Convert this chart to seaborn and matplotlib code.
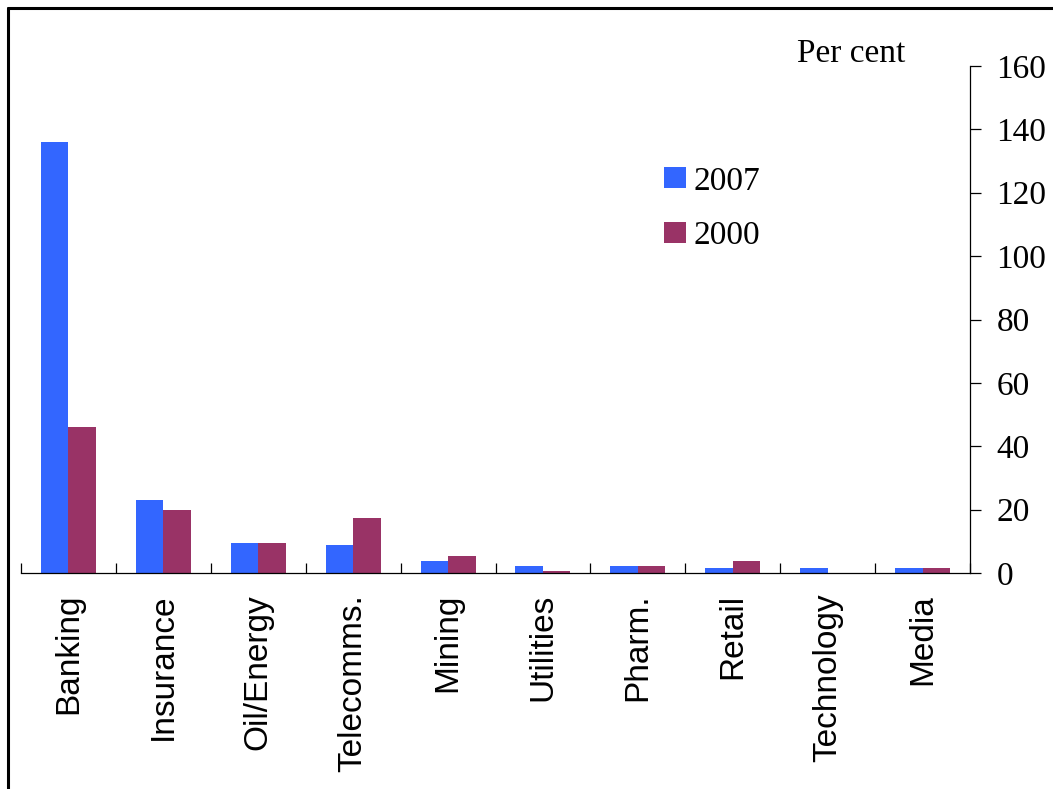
import matplotlib
matplotlib.use("Agg")
import matplotlib.pyplot as plt
from matplotlib.lines import Line2D
import seaborn as sns
import pandas as pd
import numpy as np

categories = ["Banking", "Insurance", "Oil/Energy", "Telecomms.", "Mining",
              "Utilities", "Pharm.", "Retail", "Technology", "Media"]
values_2007 = [136, 23, 9.6, 8.8, 3.9, 2.2, 2.2, 1.6, 1.6, 1.6]
values_2000 = [46, 20, 9.6, 17.4, 5.4, 0.7, 2.2, 3.9, 0.0, 1.6]
series = ["2007", "2000"]
colors = ["#3366FF", "#993366"]
yticks = [0, 20, 40, 60, 80, 100, 120, 140, 160]

df = pd.DataFrame({
    "sector": categories * 2,
    "year": [series[0]] * len(categories) + [series[1]] * len(categories),
    "value": values_2007 + values_2000,
})

sns.set_style("white")
plt.rcParams["font.family"] = ["Liberation Serif", "DejaVu Serif"]
plt.rcParams["text.color"] = "black"
plt.rcParams["xtick.color"] = "black"
plt.rcParams["ytick.color"] = "black"
plt.rcParams["axes.labelcolor"] = "black"

W, H = 1053, 789
fig = plt.figure(figsize=(W / 100, H / 100), dpi=100)
ax = fig.add_axes([21 / W, 1 - 573 / H, 949 / W, 507 / H])

sns.barplot(data=df, x="sector", y="value", hue="year", hue_order=series,
            order=categories, palette=colors, width=0.58, gap=0,
            saturation=1, edgecolor="none", linewidth=0, ax=ax, legend=True)

ax.set_xlim(-0.5, len(categories) - 0.5)
ax.set_ylim(0, 160)
ax.set_xlabel("")
ax.set_ylabel("")

# spines
for s in ["left", "top"]:
    ax.spines[s].set_visible(False)
for s in ["right", "bottom"]:
    ax.spines[s].set_visible(True)
    ax.spines[s].set_color("black")
    ax.spines[s].set_linewidth(0.9)

# y axis on right
ax.yaxis.tick_right()
ax.set_yticks(yticks)
ax.set_yticklabels([str(v) for v in yticks], fontsize=24, color="black",
                   family=["Liberation Serif", "DejaVu Serif"])
ax.tick_params(axis="y", which="major", direction="out", length=8, width=0.9,
               color="black", labelcolor="black", pad=11, right=True, left=False)

# x axis: category labels rotated, ticks between categories
ax.set_xticks(range(len(categories)))
ax.set_xticklabels(categories, rotation=90, fontsize=24, color="black",
                   family=["Liberation Sans", "DejaVu Sans"], va="top", ha="center")
ax.tick_params(axis="x", which="major", length=0, pad=15, bottom=True,
               labelcolor="black")
ax.set_xticks(np.arange(-0.5, len(categories), 1.0), minor=True)
ax.tick_params(axis="x", which="minor", direction="in", length=7.5, width=0.9,
               color="black", bottom=True)

# legend
handles, labels = ax.get_legend_handles_labels()
leg = ax.legend(handles, labels, loc="upper left",
                bbox_to_anchor=(664 / W, 1 - 166 / H), bbox_transform=fig.transFigure,
                frameon=False, borderpad=0, borderaxespad=0,
                handlelength=0.66, handleheight=0.6, handletextpad=0.22,
                labelspacing=0.72, prop={"family": ["Liberation Serif"], "size": 24})
for t in leg.get_texts():
    t.set_color("black")

fig.text(797 / W, 1 - 62 / H, "Per cent", fontsize=24, va="baseline", ha="left",
         color="black", family=["Liberation Serif", "DejaVu Serif"])

# figure border (top and left visible)
fig.add_artist(Line2D([8 / W, 8 / W], [0, 1 - 8 / H], transform=fig.transFigure,
                      color="black", linewidth=2.2))
fig.add_artist(Line2D([8 / W, 1], [1 - 8 / H, 1 - 8 / H], transform=fig.transFigure,
                      color="black", linewidth=2.2))

fig.savefig("out.png", dpi=100)
